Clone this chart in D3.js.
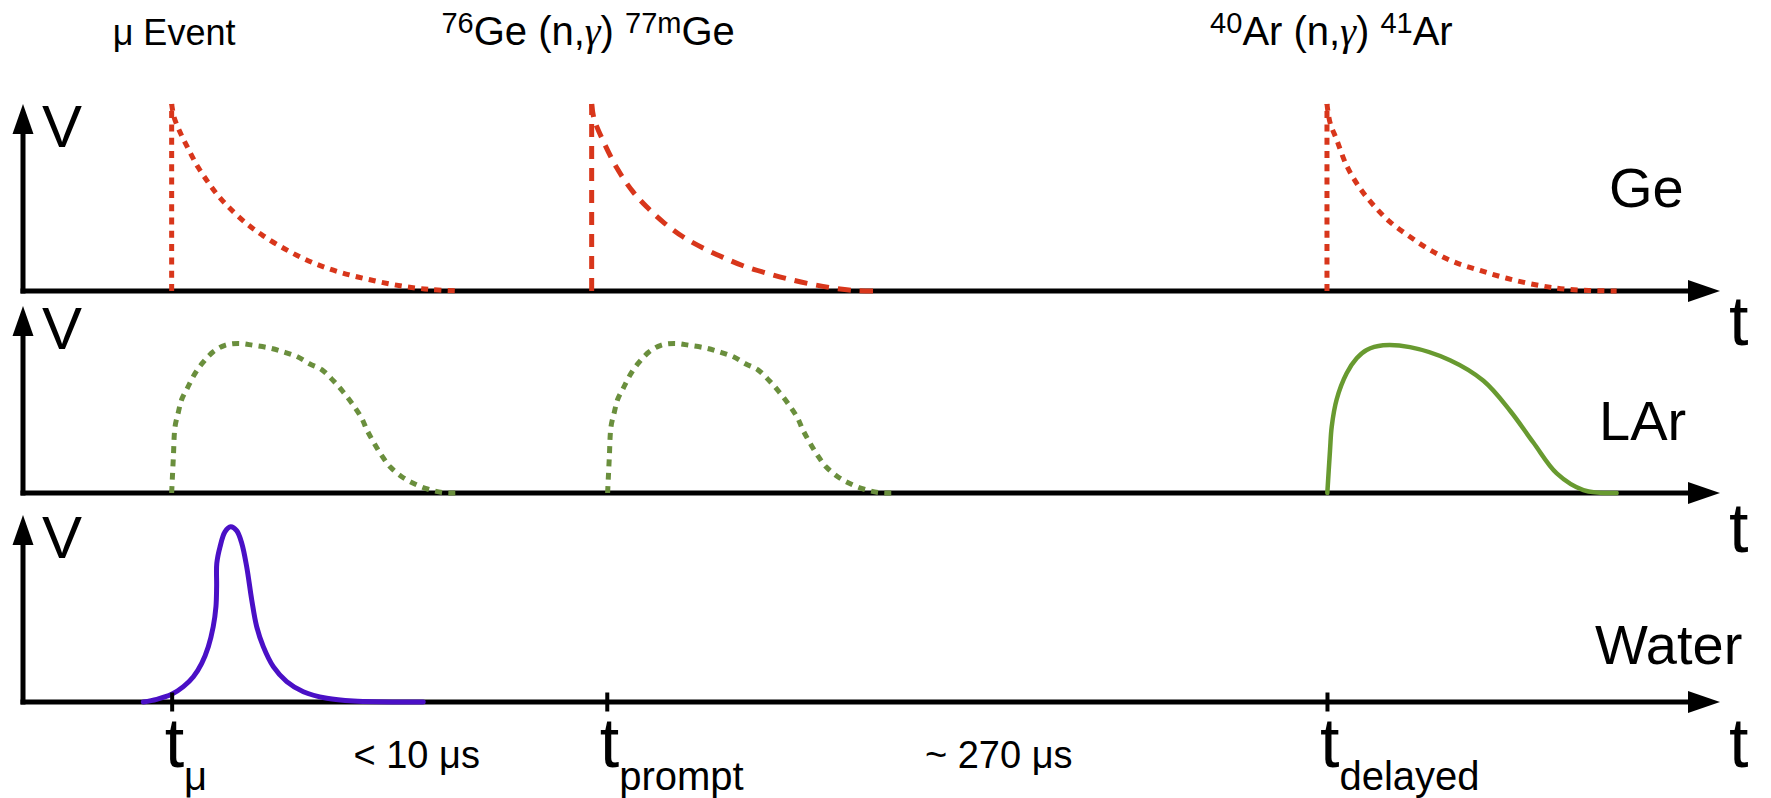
<!DOCTYPE html>
<html>
<head>
<meta charset="utf-8">
<script src="https://cdn.jsdelivr.net/npm/d3@7"></script>
<style>
  html, body { margin: 0; padding: 0; background: #fff; }
  svg { display: block; }
  text { font-family: "Liberation Sans", Arial, Helvetica, sans-serif; fill: #000; white-space: pre; }
</style>
</head>
<body>
<svg id="chart" width="1771" height="798"></svg>
<script>
// ---- data (time in arbitrary units 0..100, amplitude 0..1 of the panel's V axis) ----
const panelNames = ["Ge", "LAr", "Water"];

const tickTimes = [8.76, 34.4, 76.84];
const tickLabels = [["t", "μ"], ["t", "prompt"], ["t", "delayed"]];

const eventTimes = [8.9, 33.3, 77.1];
const eventTitles = [
  [["μ Event", "n"]],
  [["76", "sup"], ["Ge (n,", "n"], ["γ", "g"], [") ", "n"], ["77m", "sup"], ["Ge", "n"]],
  [["40", "sup"], ["Ar (n,", "n"], ["γ", "g"], [") ", "n"], ["41", "sup"], ["Ar", "n"]]
];

const intervalTimes = [23.2, 57.5];
const intervalLabels = ["< 10 μs", "~ 270 μs"];

// Ge: fast rise (vertical edge) and exponential-like decay
const geMuSpike = 8.76;
const geMuDecay = [[8.76, 1.0], [8.9, 0.93], [9.25, 0.85], [9.74, 0.76], [10.33, 0.66], [10.92, 0.58],
  [11.41, 0.52], [12.10, 0.45], [13.18, 0.36], [14.16, 0.295], [15.63, 0.215], [17.11, 0.15],
  [18.68, 0.10], [20.45, 0.06], [22.22, 0.028], [23.98, 0.008], [25.75, 0]];

const gePromptSpike = 33.51;
const gePromptDecay = [[33.51, 1.0], [33.65, 0.92], [34.00, 0.84], [34.98, 0.66], [35.95, 0.53],
  [36.75, 0.45], [37.71, 0.37], [38.89, 0.29], [40.07, 0.23], [41.25, 0.18], [42.43, 0.135],
  [43.84, 0.095], [45.02, 0.066], [46.38, 0.038], [47.73, 0.016], [49.14, 0.002], [50.38, 0]];

const geDelayedSpike = 76.84;
const geDelayedDecay = [[76.84, 1.0], [77.02, 0.90], [77.41, 0.81], [78.00, 0.67], [78.78, 0.55],
  [79.57, 0.46], [80.55, 0.37], [81.73, 0.29], [82.91, 0.22], [84.28, 0.157], [85.86, 0.11],
  [87.43, 0.068], [89.20, 0.032], [90.97, 0.009], [93.91, 0]];

// LAr scintillation pulses
const larMu = [[8.76, 0], [8.86, 0.19], [8.96, 0.355], [9.15, 0.43], [9.35, 0.50], [9.68, 0.56],
  [10.14, 0.64], [10.62, 0.70], [11.21, 0.755], [11.90, 0.79], [12.69, 0.80], [13.57, 0.79],
  [14.56, 0.775], [15.34, 0.755], [16.13, 0.73], [16.91, 0.69], [17.60, 0.66], [18.29, 0.60],
  [18.87, 0.54], [19.46, 0.47], [19.96, 0.40], [20.25, 0.34], [20.64, 0.275], [21.14, 0.20],
  [21.63, 0.14], [22.32, 0.087], [23.00, 0.052], [23.88, 0.02], [24.77, 0.002], [25.56, 0]];

const larPrompt = [[34.45, 0], [34.55, 0.19], [34.65, 0.355], [34.84, 0.43], [35.04, 0.50], [35.37, 0.56],
  [35.83, 0.64], [36.31, 0.70], [36.90, 0.755], [37.59, 0.79], [38.38, 0.80], [39.26, 0.79],
  [40.25, 0.775], [41.03, 0.755], [41.82, 0.73], [42.60, 0.69], [43.29, 0.66], [43.98, 0.60],
  [44.56, 0.54], [45.15, 0.47], [45.65, 0.40], [45.94, 0.34], [46.33, 0.275], [46.83, 0.20],
  [47.32, 0.14], [48.01, 0.087], [48.69, 0.052], [49.57, 0.02], [50.46, 0.002], [51.25, 0]];

const larDelayed = [[76.86, 0], [77.02, 0.23], [77.12, 0.355], [77.41, 0.50], [78.00, 0.64],
  [78.59, 0.72], [79.18, 0.765], [80.15, 0.79], [81.73, 0.78], [84.09, 0.71], [86.06, 0.60],
  [87.63, 0.44], [89.00, 0.27], [90.38, 0.105], [91.95, 0.016], [93.91, 0]];

// Water Cherenkov muon pulse
const waterMu = [[7.09, 0], [7.88, 0.014], [8.76, 0.041], [9.45, 0.082], [10.04, 0.135], [10.53, 0.207],
  [10.92, 0.296], [11.21, 0.403], [11.37, 0.51], [11.41, 0.617], [11.42, 0.742], [11.61, 0.83],
  [11.90, 0.91], [12.24, 0.937], [12.59, 0.916], [12.89, 0.849], [13.18, 0.724], [13.48, 0.545],
  [13.77, 0.403], [14.16, 0.296], [14.75, 0.189], [15.54, 0.109], [16.52, 0.055], [17.90, 0.020],
  [19.46, 0.005], [23.59, 0]];

// ---- layout ----
const svg = d3.select("#chart");
const x = d3.scaleLinear().domain([0, 100]).range([23, 1720]);
const panelBase = { Ge: 291, LAr: 493, Water: 702 };
const panelHeight = 187;
const y = {};
panelNames.forEach(n => {
  y[n] = d3.scaleLinear().domain([0, 1]).range([panelBase[n], panelBase[n] - panelHeight]);
});

const labelPos = {
  Ge: { x: 1609, y: 207 },
  LAr: { x: 1599, y: 440 },
  Water: { x: 1595, y: 664 }
};
const tLabelBaseline = { Ge: 345, LAr: 552, Water: 767 };

const RED = "#d8361b", GREEN_DOT = "#6a8f3d", GREEN = "#689a30", PURPLE = "#4a10c6";
const DOTS = "7,6.3", DASHES = "13,9";

const smooth = d3.curveCatmullRom.alpha(0.5);

// ---- axes (lines with arrowheads) ----
panelNames.forEach(n => {
  const ys = y[n];
  const g = svg.append("g").attr("class", "axes-" + n);
  const x0 = x(0), x1 = x(100), yb = ys(0), yt = ys(1);

  const xAxis = d3.axisBottom(x).tickValues([]).tickSizeOuter(0);
  const gx = g.append("g").attr("transform", `translate(0,${yb})`).call(xAxis);
  gx.select(".domain")
    .attr("d", `M${x0 - 2.5},0H${x1 - 24}`)
    .attr("stroke", "#000").attr("stroke-width", 5).attr("fill", "none");
  g.append("path")
    .attr("d", `M${x1},${yb}L${x1 - 32},${yb - 11}L${x1 - 32},${yb + 11}Z`)
    .attr("fill", "#000");

  const yAxis = d3.axisLeft(ys).tickValues([]).tickSizeOuter(0);
  const gy = g.append("g").attr("transform", `translate(${x0},0)`).call(yAxis);
  gy.select(".domain")
    .attr("d", `M0,${yb + 2.5}V${yt + 24}`)
    .attr("stroke", "#000").attr("stroke-width", 5).attr("fill", "none");
  g.append("path")
    .attr("d", `M${x0},${yt}L${x0 - 10.5},${yt + 30}L${x0 + 10.5},${yt + 30}Z`)
    .attr("fill", "#000");

  // axis letters and detector name
  g.append("text").attr("x", 42).attr("y", yt + 43)
    .attr("font-size", 60).text("V");
  g.append("text").attr("x", 1729).attr("y", tLabelBaseline[n])
    .attr("font-size", 70).text("t");
  g.append("text").attr("x", labelPos[n].x).attr("y", labelPos[n].y)
    .attr("font-size", 56).text(n);
});

// ---- signals ----
function line(ys) {
  return d3.line().x(d => x(d[0])).y(d => ys(d[1])).curve(smooth);
}
function spike(ys, t) {
  return d3.line().x(d => x(d[0])).y(d => ys(d[1]))([[t, 0], [t, 1]]);
}
const sig = svg.append("g").attr("class", "signals").attr("fill", "none");

function geTrace(t, decay, dash) {
  const ys = y.Ge;
  sig.append("path").attr("d", spike(ys, t))
    .attr("stroke", RED).attr("stroke-width", 5).attr("stroke-dasharray", dash);
  sig.append("path").attr("d", line(ys)(decay))
    .attr("stroke", RED).attr("stroke-width", 5).attr("stroke-dasharray", dash);
}
geTrace(geMuSpike, geMuDecay, DOTS);
geTrace(gePromptSpike, gePromptDecay, DASHES);
geTrace(geDelayedSpike, geDelayedDecay, DOTS);

sig.append("path").attr("d", line(y.LAr)(larMu))
  .attr("stroke", GREEN_DOT).attr("stroke-width", 5).attr("stroke-dasharray", DOTS);
sig.append("path").attr("d", line(y.LAr)(larPrompt))
  .attr("stroke", GREEN_DOT).attr("stroke-width", 5).attr("stroke-dasharray", DOTS);
sig.append("path").attr("d", line(y.LAr)(larDelayed))
  .attr("stroke", GREEN).attr("stroke-width", 4.5).attr("stroke-linecap", "round");

sig.append("path").attr("d", line(y.Water)(waterMu))
  .attr("stroke", PURPLE).attr("stroke-width", 5).attr("stroke-linecap", "round");

// ---- event time ticks on the bottom axis ----
const tickAxis = d3.axisBottom(x).tickValues(tickTimes).tickFormat("").tickSizeInner(10).tickSizeOuter(0);
const gt = svg.append("g").attr("transform", `translate(0,${y.Water(0)})`).call(tickAxis);
gt.select(".domain").remove();
gt.selectAll(".tick line").attr("y1", -9.5).attr("y2", 9.5)
  .attr("stroke", "#000").attr("stroke-width", 4);

const tl = svg.append("g").attr("class", "tick-labels");
tickLabels.forEach((lab, i) => {
  const txt = tl.append("text").attr("x", x(tickTimes[i]) - 7).attr("y", 767);
  txt.append("tspan").attr("font-size", 70).text(lab[0]);
  txt.append("tspan").attr("font-size", 40).attr("dy", 23).text(lab[1]);
});

intervalLabels.forEach((s, i) => {
  svg.append("text").attr("x", x(intervalTimes[i])).attr("y", 768)
    .attr("text-anchor", "middle").attr("font-size", 38).text(s);
});

// ---- reaction titles ----
eventTitles.forEach((parts, i) => {
  const txt = svg.append("text").attr("x", x(eventTimes[i])).attr("y", 45)
    .attr("text-anchor", "middle").attr("font-size", i === 0 ? 36 : 40);
  let raised = false;
  parts.forEach(([s, kind]) => {
    const ts = txt.append("tspan").text(s);
    if (kind === "sup") {
      ts.attr("font-size", 29);
      if (!raised) { ts.attr("dy", -12); raised = true; }
    } else {
      if (raised) { ts.attr("dy", 12); raised = false; }
      if (kind === "g") {
        ts.attr("font-family", "'Liberation Serif', 'DejaVu Serif', serif").attr("font-style", "italic");
      }
    }
  });
});
</script>
</body>
</html>
